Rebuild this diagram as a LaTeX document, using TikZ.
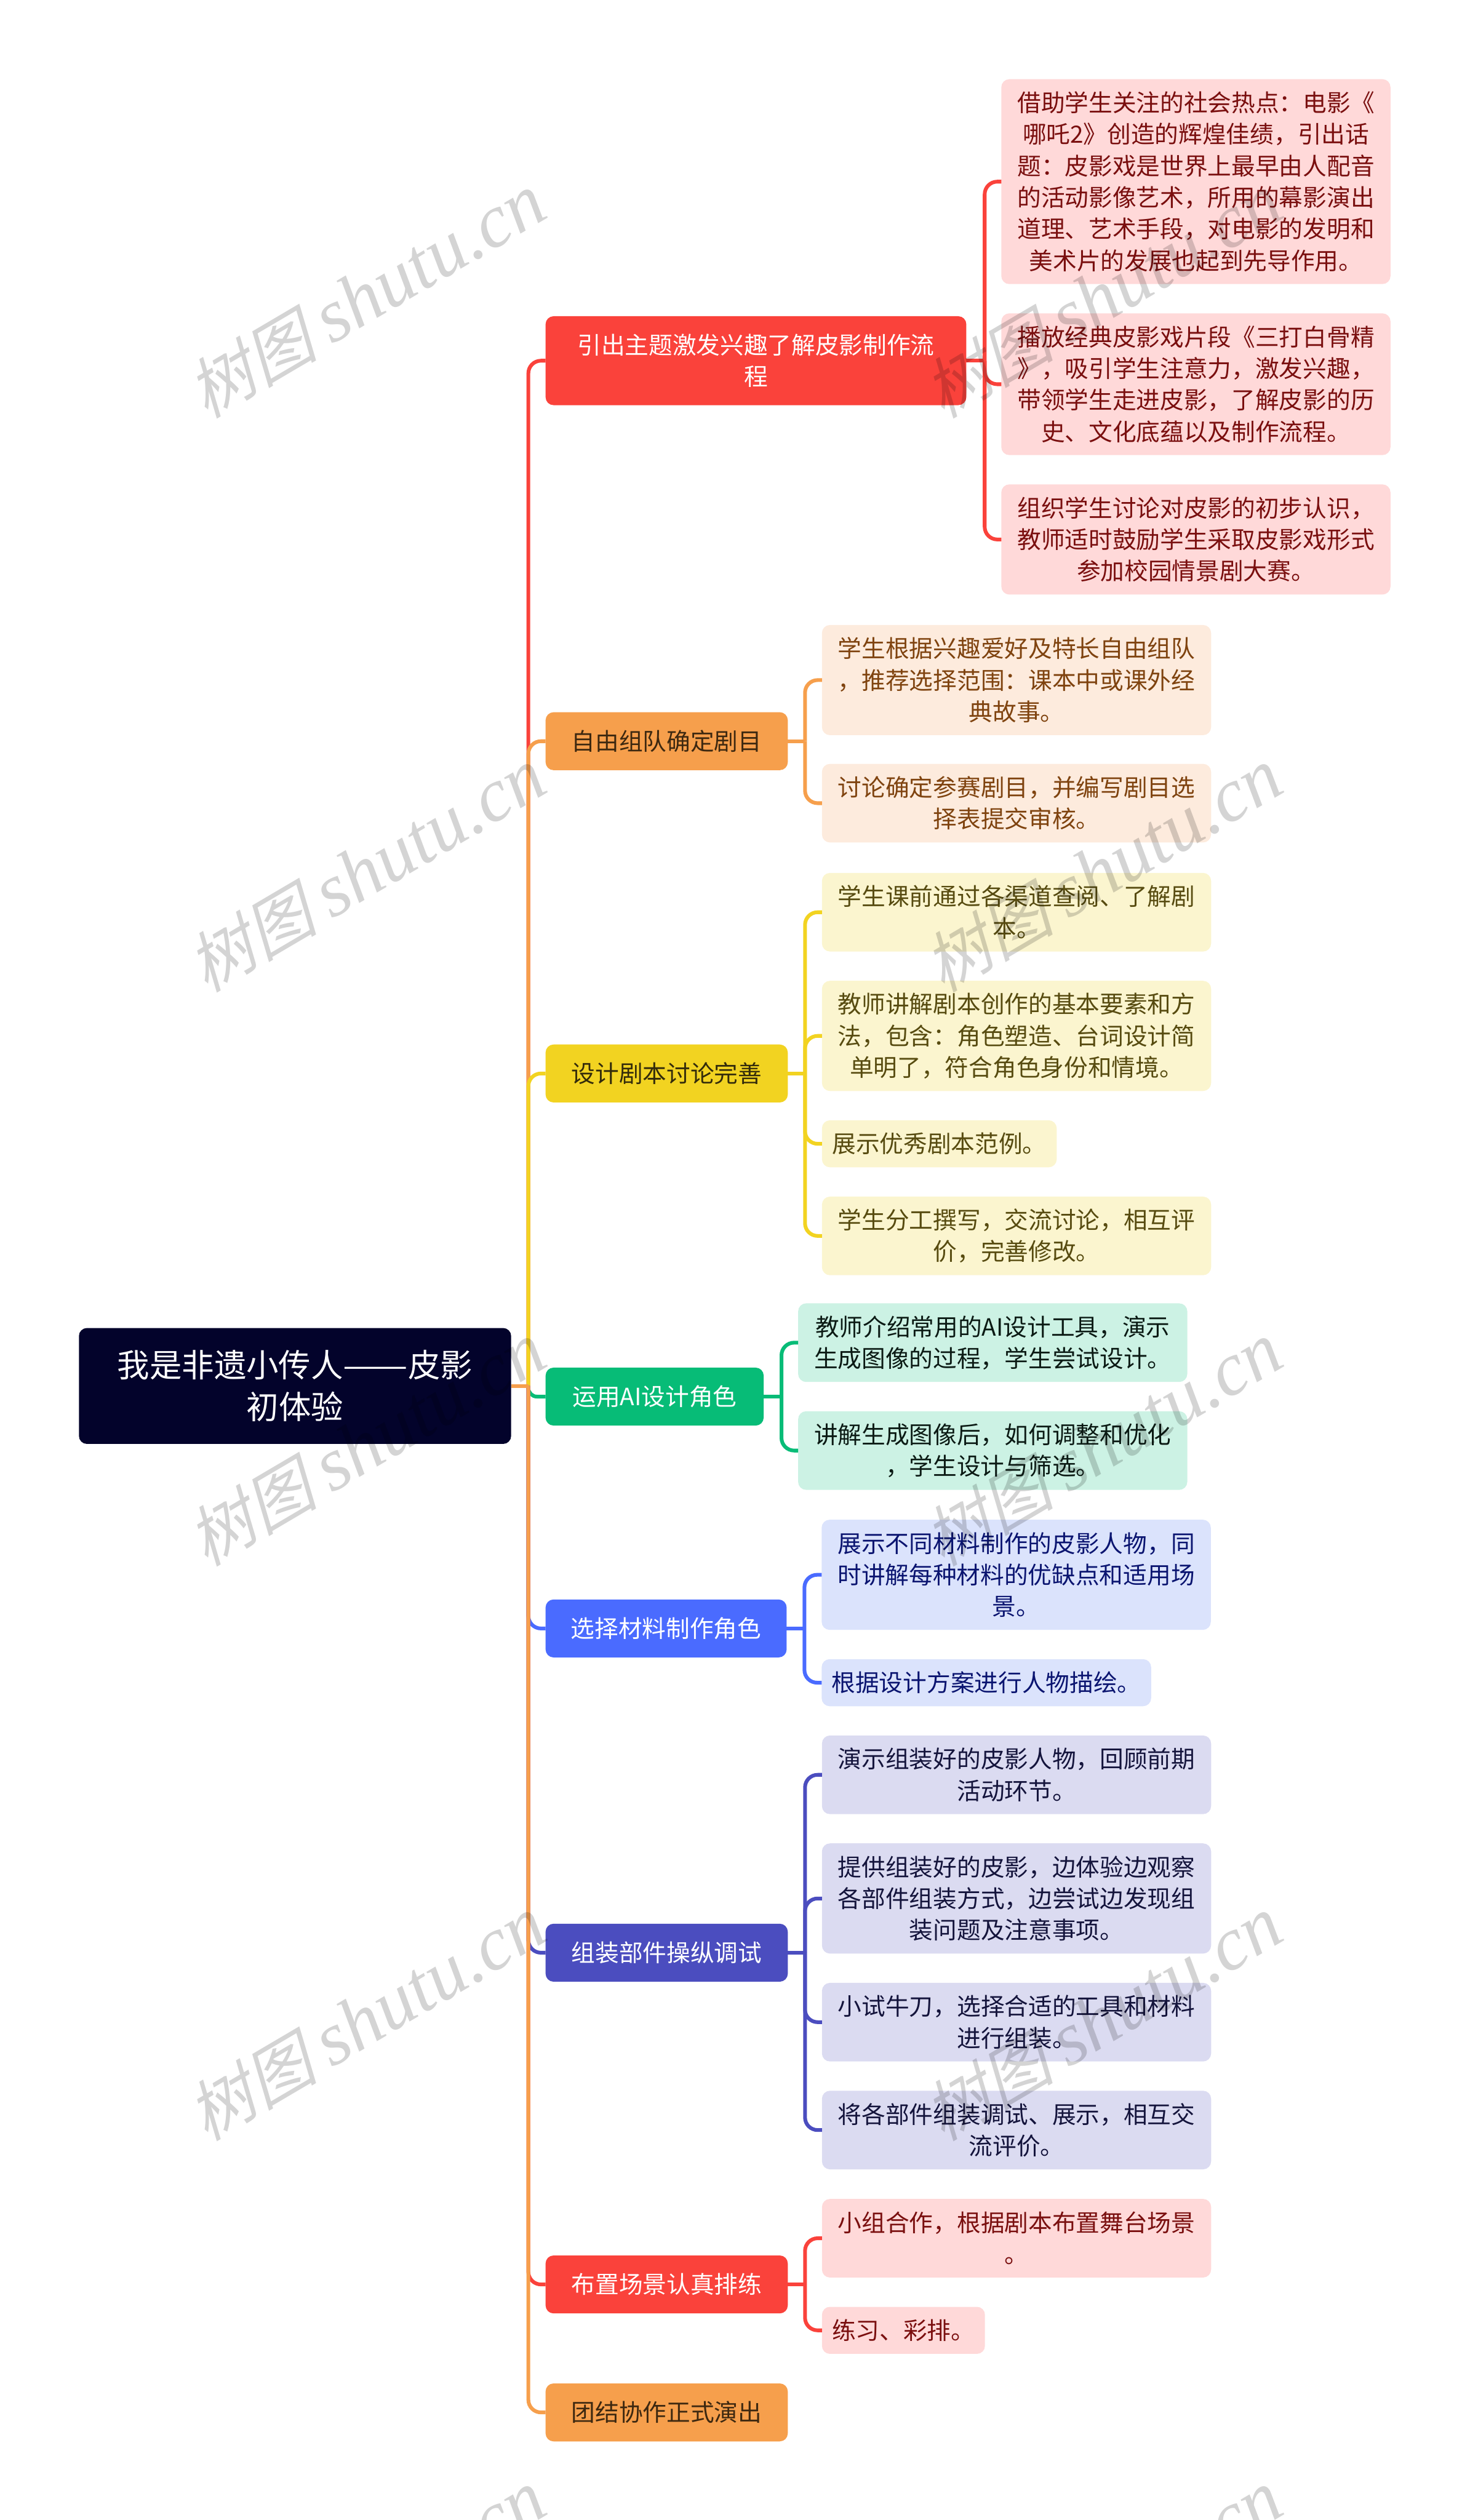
\documentclass[tikz,border=0pt]{standalone}
\usepackage{fontspec}
\setmainfont{Noto Sans CJK SC}
\newfontfamily\wmcjk[FakeSlant=0.25]{Noto Sans CJK SC}
\newfontfamily\wmserif{Liberation Serif}
\usetikzlibrary{positioning}

\definecolor{rootblue}{HTML}{03032B}
\definecolor{rmain}{HTML}{FA423B}
\definecolor{rleaf}{HTML}{FFD9D9}
\definecolor{rtext}{HTML}{7A0F0F}
\definecolor{omain}{HTML}{F69F4C}
\definecolor{oleaf}{HTML}{FDEBDD}
\definecolor{otext}{HTML}{7F430F}
\definecolor{otop}{HTML}{3D2810}
\definecolor{ymain}{HTML}{F2D321}
\definecolor{yleaf}{HTML}{FBF5CF}
\definecolor{ytext}{HTML}{574B10}
\definecolor{ytop}{HTML}{332B0B}
\definecolor{gmain}{HTML}{07BC77}
\definecolor{gleaf}{HTML}{CCF2E4}
\definecolor{gtext}{HTML}{0B1A14}
\definecolor{bmain}{HTML}{4A6BFF}
\definecolor{bleaf}{HTML}{DBE3FC}
\definecolor{btext}{HTML}{0A1470}
\definecolor{imain}{HTML}{4B4DBF}
\definecolor{ileaf}{HTML}{DBDBF1}
\definecolor{itext}{HTML}{14143C}

\newcommand{\wmtext}{{\wmcjk 树图} {\wmserif\itshape\fontsize{37.5}{38}\selectfont shutu.cn}}

\tikzset{
  rootbox/.style = {fill=rootblue, text=white, rounded corners=.14cm, inner sep=0pt, outer sep=0pt, align=center,
    minimum width=7.53cm, minimum height=2.02cm, font=\fontsize{16}{20.7}\selectfont},
  mainbox/.style = {rounded corners=.14cm, inner sep=0pt, outer sep=0pt, align=center, minimum height=1.01cm,
    minimum width=4.22cm, font=\fontsize{11.8}{15.65}\selectfont},
  leafbox/.style = {rounded corners=.14cm, inner sep=0pt, outer sep=0pt, align=center, text width=6.78cm,
    font=\fontsize{11.8}{15.65}\selectfont},
  link/.style = {line width=.065cm, rounded corners=.22cm},
  redmain/.style = {mainbox, fill=rmain, text=white},
  orangemain/.style = {mainbox, fill=omain, text=otop},
  yellowmain/.style = {mainbox, fill=ymain, text=ytop},
  greenmain/.style = {mainbox, fill=gmain, text=white},
  bluemain/.style = {mainbox, fill=bmain, text=white},
  indigomain/.style = {mainbox, fill=imain, text=white},
  redleaf/.style = {leafbox, fill=rleaf, text=rtext},
  orangeleaf/.style = {leafbox, fill=oleaf, text=otext},
  yellowleaf/.style = {leafbox, fill=yleaf, text=ytext},
  greenleaf/.style = {leafbox, fill=gleaf, text=gtext},
  blueleaf/.style = {leafbox, fill=bleaf, text=btext},
  indigoleaf/.style = {leafbox, fill=ileaf, text=itext},
  wmark/.style = {rotate=30.5, text=black, text opacity=.17, font=\fontsize{32.5}{38}\selectfont}
}

\begin{document}
\begin{tikzpicture}
   \useasboundingbox (0,0) rectangle (25.6,-43.91);
   \clip (0,0) rectangle (25.6,-43.91);

   \node (root)[rootbox] at (5.14,-24.15) {我是非遗小传人{\addfontfeature{FakeStretch=1.2}——}皮影\\初体验};
   \coordinate[right = .3 of root] (hroot);

   \node (n1)[redmain, minimum width=7.33cm, minimum height=1.55cm, right = .6 of root, yshift=17.865cm] {引出主题激发兴趣了解皮影制作流\\程};
   \node (n2)[orangemain, below = 5.35 of n1.south west, anchor=north west] {自由组队确定剧目};
   \node (n3)[yellowmain, below = 4.78 of n2.south west, anchor=north west] {设计剧本讨论完善};
   \node (n4)[greenmain, minimum width=3.8cm, below = 4.62 of n3.south west, anchor=north west] {运用AI设计角色};
   \node (n5)[bluemain, minimum width=4.2cm, below = 3.03 of n4.south west, anchor=north west] {选择材料制作角色};
   \node (n6)[indigomain, below = 4.64 of n5.south west, anchor=north west] {组装部件操纵调试};
   \node (n7)[redmain, below = 4.77 of n6.south west, anchor=north west] {布置场景认真排练};
   \node (n8)[orangemain, below = 1.22 of n7.south west, anchor=north west] {团结协作正式演出};

   \node (a1)[redleaf, minimum height=3.57cm, right = .61 of n1, yshift=3.12cm] {借助学生关注的社会热点：电影《\\哪吒2》创造的辉煌佳绩，引出话\\题：皮影戏是世界上最早由人配音\\的活动影像艺术，所用的幕影演出\\道理、艺术手段，对电影的发明和\\美术片的发展也起到先导作用。};
   \node (a2)[redleaf, minimum height=2.47cm, below = .51 of a1] {播放经典皮影戏片段《三打白骨精\\》，吸引学生注意力，激发兴趣，\\带领学生走进皮影，了解皮影的历\\史、文化底蕴以及制作流程。};
   \node (a3)[redleaf, minimum height=1.92cm, below = .51 of a2] {组织学生讨论对皮影的初步认识，\\教师适时鼓励学生采取皮影戏形式\\参加校园情景剧大赛。};

   \node (b1)[orangeleaf, minimum height=1.92cm, right = .595 of n2, yshift=1.065cm] {学生根据兴趣爱好及特长自由组队\\，推荐选择范围：课本中或课外经\\典故事。};
   \node (b2)[orangeleaf, minimum height=1.37cm, below = .5 of b1] {讨论确定参赛剧目，并编写剧目选\\择表提交审核。};

   \node (c1)[yellowleaf, minimum height=1.37cm, right = .595 of n3, yshift=2.81cm] {学生课前通过各渠道查阅、了解剧\\本。};
   \node (c2)[yellowleaf, minimum height=1.92cm, below = .51 of c1] {教师讲解剧本创作的基本要素和方\\法，包含：角色塑造、台词设计简\\单明了，符合角色身份和情境。};
   \node (c3)[yellowleaf, text width=4.09cm, minimum height=.82cm, below = .51 of c2.south west, anchor=north west] {展示优秀剧本范例。};
   \node (c4)[yellowleaf, minimum height=1.37cm, below = .51 of c3.south west, anchor=north west] {学生分工撰写，交流讨论，相互评\\价，完善修改。};

   \node (d1)[greenleaf, minimum height=1.37cm, right = .6 of n4, yshift=.94cm] {教师介绍常用的AI设计工具，演示\\生成图像的过程，学生尝试设计。};
   \node (d2)[greenleaf, minimum height=1.37cm, below = .51 of d1] {讲解生成图像后，如何调整和优化\\，学生设计与筛选。};

   \node (e1)[blueleaf, minimum height=1.92cm, right = .61 of n5, yshift=.935cm] {展示不同材料制作的皮影人物，同\\时讲解每种材料的优缺点和适用场\\景。};
   \node (e2)[blueleaf, text width=5.74cm, minimum height=.82cm, below = .51 of e1.south west, anchor=north west] {根据设计方案进行人物描绘。};

   \node (f1)[indigoleaf, minimum height=1.37cm, right = .595 of n6, yshift=3.1cm] {演示组装好的皮影人物，回顾前期\\活动环节。};
   \node (f2)[indigoleaf, minimum height=1.92cm, below = .51 of f1] {提供组装好的皮影，边体验边观察\\各部件组装方式，边尝试边发现组\\装问题及注意事项。};
   \node (f3)[indigoleaf, minimum height=1.37cm, below = .51 of f2] {小试牛刀，选择合适的工具和材料\\进行组装。};
   \node (f4)[indigoleaf, minimum height=1.37cm, below = .51 of f3] {将各部件组装调试、展示，相互交\\流评价。};

   \node (g1)[redleaf, minimum height=1.37cm, right = .595 of n7, yshift=.805cm] {小组合作，根据剧本布置舞台场景\\。};
   \node (g2)[redleaf, text width=2.84cm, minimum height=.82cm, below = .51 of g1.south west, anchor=north west] {练习、彩排。};

   \coordinate[right = .32 of n1] (hn1);
   \coordinate[right = .3 of n2] (hn2);
   \coordinate[right = .3 of n3] (hn3);
   \coordinate[right = .31 of n4] (hn4);
   \coordinate[right = .31 of n5] (hn5);
   \coordinate[right = .3 of n6] (hn6);
   \coordinate[right = .3 of n7] (hn7);

   \draw[link, rmain] (hroot) |- (n1.west);
   \draw[link, omain] (hroot) |- (n2.west);
   \draw[link, ymain] (hroot) |- (n3.west);
   \draw[link, gmain, rounded corners=.15cm] (hroot) |- (n4.west);
   \draw[link, bmain] (hroot) |- (n5.west);
   \draw[link, imain] (hroot) |- (n6.west);
   \draw[link, rmain] (hroot) |- (n7.west);
   \draw[link, omain] (hroot) |- (n8.west);
   \draw[link, omain] (root) -- (hroot);

   \draw[link, rmain] (n1) -- (hn1);
   \draw[link, rmain] (hn1) |- (a1.west);
   \draw[link, rmain] (hn1) |- (a2.west);
   \draw[link, rmain] (hn1) |- (a3.west);

   \draw[link, omain] (n2) -- (hn2);
   \draw[link, omain] (hn2) |- (b1.west);
   \draw[link, omain] (hn2) |- (b2.west);

   \draw[link, ymain] (n3) -- (hn3);
   \draw[link, ymain] (hn3) |- (c1.west);
   \draw[link, ymain] (hn3) |- (c2.west);
   \draw[link, ymain] (hn3) |- (c3.west);
   \draw[link, ymain] (hn3) |- (c4.west);

   \draw[link, gmain] (n4) -- (hn4);
   \draw[link, gmain] (hn4) |- (d1.west);
   \draw[link, gmain] (hn4) |- (d2.west);

   \draw[link, bmain] (n5) -- (hn5);
   \draw[link, bmain] (hn5) |- (e1.west);
   \draw[link, bmain] (hn5) |- (e2.west);

   \draw[link, imain] (n6) -- (hn6);
   \draw[link, imain] (hn6) |- (f1.west);
   \draw[link, imain] (hn6) |- (f2.west);
   \draw[link, imain] (hn6) |- (f3.west);
   \draw[link, imain] (hn6) |- (f4.west);

   \draw[link, rmain] (n7) -- (hn7);
   \draw[link, rmain] (hn7) |- (g1.west);
   \draw[link, rmain] (hn7) |- (g2.west);

   \node (wa)[wmark] at (6.38,-5.16) {\wmtext};
   \node (wb)[wmark] at (19.21,-5.16) {\wmtext};
   \node (wc)[wmark] at (6.38,-15.17) {\wmtext};
   \node (wd)[wmark] at (19.21,-15.17) {\wmtext};
   \node (we)[wmark] at (6.38,-25.17) {\wmtext};
   \node (wf)[wmark] at (19.21,-25.17) {\wmtext};
   \node (wg)[wmark] at (6.38,-35.18) {\wmtext};
   \node (wh)[wmark] at (19.21,-35.18) {\wmtext};
   \node (wi)[wmark] at (6.38,-45.18) {\wmtext};
   \node (wj)[wmark] at (19.21,-45.18) {\wmtext};
\end{tikzpicture}
\end{document}
